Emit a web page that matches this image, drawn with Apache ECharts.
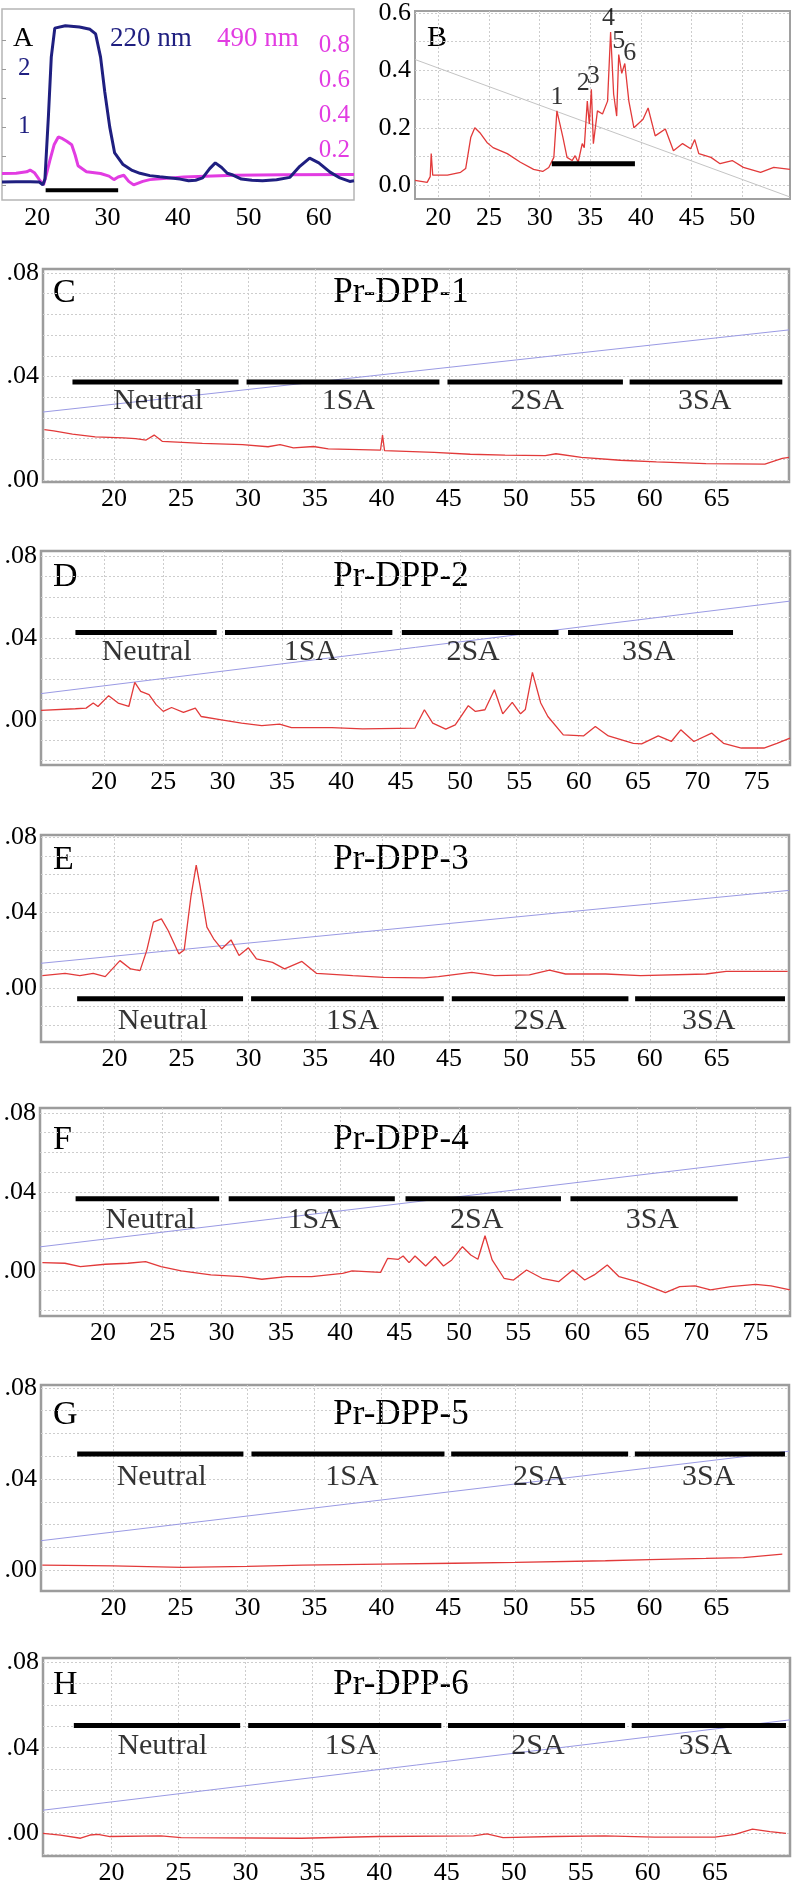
<!DOCTYPE html>
<html><head><meta charset="utf-8">
<script src="https://cdn.jsdelivr.net/npm/echarts@6/dist/echarts.min.js"></script>
<style>html,body{margin:0;padding:0;background:#fff}#c{width:792px;height:1886px}</style>
</head><body><div id="c"></div>
<script>
// ---------- DATA ----------
const segNames = ['Neutral', '1SA', '2SA', '3SA'];
const panelTitles = ['Pr-DPP-1', 'Pr-DPP-2', 'Pr-DPP-3', 'Pr-DPP-4', 'Pr-DPP-5', 'Pr-DPP-6'];
const panelLetters = ['C', 'D', 'E', 'F', 'G', 'H'];

// Panel A (220 nm on left axis, 490 nm on right axis)
const a220 = [[15,0.05],[17,0.055],[19,0.055],[20.3,0.05],[20.8,0.0],[21.1,0.1],[21.6,1.2],[22.0,2.2],[22.5,2.7],[24,2.74],[26,2.72],[27.5,2.68],[28.3,2.6],[29,2.2],[29.6,1.6],[30.3,1.0],[31,0.55],[32.2,0.35],[33.5,0.25],[34.6,0.2],[36,0.16],[37.4,0.14],[40.3,0.1],[41.5,0.07],[42.5,0.08],[43.5,0.12],[44.5,0.28],[45.3,0.38],[46.2,0.3],[47,0.2],[47.8,0.17],[49,0.1],[50.5,0.08],[52,0.07],[54,0.09],[55.9,0.13],[57.3,0.32],[58.7,0.46],[60,0.38],[61.6,0.22],[63,0.12],[64.4,0.06],[65,0.07]];
const a490 = [[15,0.065],[17,0.067],[18.5,0.075],[19,0.085],[19.6,0.07],[20.3,0.03],[20.9,0.0],[21.3,0.06],[21.8,0.14],[22.4,0.23],[23,0.275],[23.6,0.265],[24.2,0.25],[24.9,0.23],[25.4,0.17],[25.8,0.11],[27,0.075],[29,0.065],[30.2,0.05],[30.9,0.03],[31.5,0.045],[32.3,0.055],[33.0,0.02],[33.7,0.0],[35,0.02],[36,0.03],[40.8,0.045],[48,0.055],[55,0.058],[65,0.06]];
const aBar = [21.2, 31.5];
const aBarY = -0.09;

// Panel B
const bRed = [[17.7,0.017],[18.9,0.01],[19.2,0.03],[19.3,0.11],[19.45,0.035],[20.9,0.035],[22.2,0.045],[22.7,0.058],[23.2,0.166],[23.6,0.2],[24.1,0.183],[24.8,0.149],[25.4,0.131],[26.8,0.11],[28.1,0.08],[29.4,0.055],[30.3,0.048],[30.9,0.062],[31.4,0.097],[31.7,0.259],[32.0,0.213],[32.3,0.166],[32.7,0.097],[33.2,0.086],[33.5,0.103],[33.8,0.08],[34.2,0.145],[34.4,0.131],[34.7,0.293],[34.9,0.213],[35.1,0.334],[35.3,0.145],[35.7,0.259],[36.2,0.248],[36.7,0.293],[37.0,0.534],[37.3,0.317],[37.6,0.241],[37.8,0.455],[38.1,0.39],[38.4,0.424],[38.8,0.293],[39.3,0.2],[40.2,0.23],[40.7,0.269],[41.4,0.172],[42.4,0.196],[43.2,0.12],[44.1,0.145],[44.9,0.127],[45.3,0.159],[45.7,0.11],[46.9,0.097],[47.8,0.075],[49.0,0.086],[50.1,0.062],[51.8,0.045],[53.1,0.062],[54.7,0.055]];
const bGray = [[17.7,0.438],[54.7,-0.041]];
const bBar = [31.2, 39.4];
const bBarY = 0.075;
const bPeakNames = ['1','2','3','4','5','6'];
const bPeaks = [[31.7,0.259],[34.7,0.293],[35.1,0.334],[37.0,0.534],[37.8,0.455],[38.4,0.424]];

// Panels C..H
const cRed = [[14.8,0.0195],[15.5,0.019],[16.9,0.0178],[18.6,0.0167],[20.7,0.0163],[21.6,0.016],[22.4,0.0155],[23.0,0.0174],[23.6,0.015],[26.6,0.0142],[29.6,0.0137],[31.5,0.0129],[32.4,0.0137],[33.4,0.0125],[34.9,0.013],[36.0,0.0121],[39.9,0.0116],[40.05,0.0174],[40.2,0.0114],[43.9,0.0107],[46.6,0.0100],[49.2,0.0097],[52.2,0.0095],[53.0,0.0102],[54.9,0.0088],[57.8,0.0077],[60.5,0.0071],[64.2,0.0064],[68.6,0.0062],[69.9,0.0084],[70.4,0.0088]];
const dRed = [[14.7,0.0046],[17.6,0.0054],[18.5,0.0057],[19.1,0.0082],[19.5,0.0065],[20.4,0.0118],[21.2,0.0082],[22.1,0.0065],[22.6,0.0183],[23.1,0.0139],[23.8,0.0123],[24.4,0.0074],[25.0,0.0041],[25.7,0.006],[26.7,0.0036],[27.7,0.0057],[28.2,0.0016],[29.9,0.0],[31.6,-0.0016],[33.3,-0.0029],[34.8,-0.0021],[35.8,-0.0038],[39.2,-0.0038],[41.8,-0.0044],[46.2,-0.0041],[47.0,0.0049],[47.7,-0.0016],[48.8,-0.0046],[49.6,-0.0025],[50.7,0.0069],[51.3,0.0041],[52.1,0.0049],[52.9,0.0147],[53.6,0.0029],[54.4,0.0085],[55.1,0.0029],[55.5,0.005],[56.1,0.0232],[56.8,0.0082],[57.4,0.0016],[58.7,-0.0074],[60.4,-0.0079],[61.4,-0.0033],[62.5,-0.0079],[64.6,-0.0115],[65.3,-0.0118],[66.7,-0.0079],[67.8,-0.0106],[68.6,-0.0049],[69.7,-0.0106],[71.2,-0.0065],[72.2,-0.0115],[73.7,-0.0138],[75.6,-0.0138],[76.7,-0.0115],[77.8,-0.009]];
const eRed = [[14.6,0.0064],[16.3,0.0076],[17.4,0.0064],[18.4,0.0076],[19.3,0.0059],[20.4,0.0144],[21.2,0.01],[21.9,0.0091],[22.4,0.0197],[22.9,0.0348],[23.5,0.0366],[24.0,0.0304],[24.8,0.018],[25.2,0.02],[25.7,0.0482],[26.1,0.0651],[26.4,0.0535],[26.9,0.0322],[27.4,0.026],[28.0,0.0206],[28.7,0.0254],[29.3,0.0171],[30.0,0.0212],[30.6,0.0153],[31.8,0.0135],[32.7,0.01],[34.0,0.014],[35.1,0.0076],[37.8,0.0064],[40.1,0.0055],[43.1,0.0052],[44.2,0.0059],[46.7,0.0082],[48.4,0.0064],[51.0,0.0068],[52.5,0.0094],[53.7,0.0073],[56.7,0.0073],[59.3,0.0064],[64.2,0.0073],[65.7,0.0087],[70.3,0.0087]];
const fRed = [[14.9,0.0042],[16.8,0.0039],[18.1,0.0022],[20.2,0.0034],[22.1,0.0039],[23.6,0.0047],[24.9,0.0022],[26.6,0.0],[29.1,-0.002],[31.7,-0.0029],[33.4,-0.0042],[35.5,-0.0029],[37.6,-0.0029],[40.2,-0.0012],[41.0,0.0],[43.4,-0.0007],[44.0,0.0064],[44.9,0.0059],[45.3,0.0076],[45.8,0.0042],[46.3,0.0076],[47.2,0.0025],[48.0,0.0073],[48.7,0.0025],[49.4,0.0056],[50.3,0.0123],[51.0,0.0081],[51.6,0.0059],[52.2,0.0178],[52.8,0.0056],[53.8,-0.0037],[54.6,-0.0046],[55.7,0.0005],[57.0,-0.0037],[58.4,-0.0054],[59.6,0.0005],[60.6,-0.0046],[61.4,-0.002],[62.5,0.003],[63.5,-0.0029],[65.0,-0.0054],[66.1,-0.0079],[67.4,-0.011],[68.6,-0.0079],[69.9,-0.0076],[71.2,-0.0096],[72.9,-0.0079],[75.0,-0.0068],[76.3,-0.0076],[77.9,-0.0096]];
const gRed = [[14.7,0.0022],[20,0.0018],[25.1,0.0012],[30,0.0016],[34.1,0.0022],[40,0.0026],[45.4,0.003],[50,0.0034],[56.7,0.0041],[60,0.0046],[64.2,0.0051],[67,0.0055],[69.9,0.007]];
const hRed = [[14.9,0.0],[16.2,-0.0008],[17.7,-0.0023],[18.4,-0.0008],[19.0,-0.0005],[19.9,-0.0015],[23.7,-0.0012],[25.2,-0.002],[34.2,-0.0023],[39.9,-0.0015],[47.0,-0.0012],[48.0,-0.0003],[49.2,-0.002],[53.0,-0.0015],[56.8,-0.0012],[60.5,-0.0018],[65.0,-0.0018],[66.5,-0.0005],[67.8,0.002],[69.1,0.0008],[70.3,0.0]];

const cBlue = [[14.7,0.0263],[70.4,0.058]];
const dBlue = [[14.7,0.0128],[77.8,0.058]];
const eBlue = [[14.5,0.013],[70.4,0.0517]];
const fBlue = [[14.7,0.0122],[77.9,0.0577]];
const gBlue = [[14.6,0.0129],[70.4,0.0522]];
const hBlue = [[14.9,0.0108],[70.6,0.053]];

const cBars = [[16.9,29.3],[29.9,44.3],[44.9,58.0],[58.5,69.9]];
const dBars = [[17.6,29.5],[30.2,44.3],[45.1,58.3],[59.1,73.0]];
const eBars = [[17.2,29.6],[30.2,44.6],[45.2,58.4],[58.9,70.1]];
const fBars = [[17.7,29.8],[30.6,44.6],[45.5,58.6],[59.4,73.5]];
const gBars = [[17.3,29.7],[30.3,44.7],[45.2,58.4],[58.9,70.1]];
const hBars = [[17.2,29.6],[30.2,44.6],[45.1,58.3],[58.8,70.3]];
const barYs = [0.0379, 0.0427, -0.0059, 0.0365, 0.051, 0.0504];
const segLabelXs = [[23.3,37.5,51.6,64.1],[23.6,37.4,51.1,65.9],[23.6,37.8,51.8,64.4],[24.0,37.8,51.5,66.3],[23.6,37.8,51.8,64.4],[23.8,37.9,51.8,64.3]];
const segLabelYs = [0.0305, 0.033, -0.0176, 0.0258, 0.041, 0.0407];

// Axis tick labels
const aXTicks = [20, 30, 40, 50, 60];
const aLeftTicks = [1, 2];
const aRightTicks = [0.2, 0.4, 0.6, 0.8];
const bXTicks = [20, 25, 30, 35, 40, 45, 50];
const bYTicks = [0.0, 0.2, 0.4, 0.6];
const xTicks65 = [20, 25, 30, 35, 40, 45, 50, 55, 60, 65];
const xTicks75 = [20, 25, 30, 35, 40, 45, 50, 55, 60, 65, 70, 75];
const yTicksLow = [0, 0.04, 0.08];

// ---------- LAYOUT / STYLE ----------
const FONT = '"Liberation Serif","DejaVu Serif",serif';
const INK = '#000';
const RED = '#e23a3a', BLUE = '#9a9ae4', NAVY = '#1f1f80', MAG = '#e23ce2';
const GRIDLINE = {show: true, lineStyle: {color: '#cdcdcd', width: 1, type: [2, 2]}};

const panels = [
  {grid: {left: 43, top: 269, width: 746, height: 213}, x: [14.7, 70.4], y: [-0.0007, 0.0815], xt: xTicks65, step: 0.008, red: cRed, blue: cBlue, bars: cBars, titleY: 293},
  {grid: {left: 41, top: 551, width: 749, height: 214}, x: [14.7, 77.8], y: [-0.0221, 0.0825], xt: xTicks75, step: 0.01, red: dRed, blue: dBlue, bars: dBars, titleY: 577},
  {grid: {left: 41, top: 835, width: 748, height: 207}, x: [14.5, 70.4], y: [-0.0288, 0.0811], xt: xTicks65, step: 0.01, red: eRed, blue: eBlue, bars: eBars, titleY: 860},
  {grid: {left: 40, top: 1108, width: 750, height: 208}, x: [14.7, 77.9], y: [-0.0228, 0.0825], xt: xTicks75, step: 0.01, red: fRed, blue: fBlue, bars: fBars, titleY: 1140},
  {grid: {left: 41, top: 1385, width: 748, height: 206}, x: [14.6, 70.4], y: [-0.0092, 0.0813], xt: xTicks65, step: 0.01, red: gRed, blue: gBlue, bars: gBars, titleY: 1415},
  {grid: {left: 43, top: 1658, width: 747, height: 200}, x: [14.9, 70.6], y: [-0.0106, 0.0819], xt: xTicks65, step: 0.01, red: hRed, blue: hBlue, bars: hBars, titleY: 1685}
];

function gridVals(min, max, step) {
  const out = [];
  for (let k = Math.ceil(min / step - 1e-9); k * step <= max + 1e-9; k++) out.push(+(k * step).toFixed(4));
  return out;
}

const grids = [], xAxes = [], yAxes = [], series = [], graphics = [];
const lbl = (size, color, extra) => Object.assign({fontFamily: FONT, fontSize: size, color: color || INK}, extra || {});

function lineSeries(xi, yi, data, color, width, z) {
  return {type: 'line', xAxisIndex: xi, yAxisIndex: yi, data: data, symbol: 'none', showSymbol: false,
    lineStyle: {color: color, width: width}, silent: true, animation: false, z: z || 2};
}
function textSeries(xi, yi, items, size, pos) {
  return {type: 'scatter', xAxisIndex: xi, yAxisIndex: yi, symbolSize: 1, itemStyle: {color: 'transparent'},
    silent: true, animation: false, z: 5, data: items,
    label: {show: true, position: pos || 'inside', formatter: p => p.name, fontFamily: FONT, fontSize: size, color: INK, distance: 0}};
}

// Panel A
grids.push({left: 2, top: 9, width: 352, height: 191, show: true, borderColor: '#b5b5b5', borderWidth: 1.5, backgroundColor: '#fff'});
xAxes.push({type: 'value', gridIndex: 0, min: 15, max: 65, axisLine: {show: false},
  axisTick: {show: false, customValues: aXTicks}, splitLine: {show: false},
  axisLabel: Object.assign(lbl(26), {customValues: aXTicks, margin: 5})});
yAxes.push({type: 'value', gridIndex: 0, min: -0.26, max: 3.03, axisLine: {show: false},
  axisTick: {show: true, inside: true, length: 4, customValues: [0, 0.5, 1, 1.5, 2, 2.5], lineStyle: {color: '#999'}},
  splitLine: {show: false},
  axisLabel: Object.assign(lbl(25, NAVY), {customValues: aLeftTicks, inside: true, margin: 16})});
yAxes.push({type: 'value', gridIndex: 0, position: 'right', min: -0.087, max: 1.01, axisLine: {show: false},
  axisTick: {show: false, customValues: aRightTicks}, splitLine: {show: false},
  axisLabel: Object.assign(lbl(25, MAG), {customValues: aRightTicks, inside: true, margin: 4, formatter: v => v.toFixed(1)})});
series.push(lineSeries(0, 1, a490, MAG, 3, 2));
series.push(lineSeries(0, 0, a220, NAVY, 3, 3));
series.push(lineSeries(0, 0, [[aBar[0], aBarY], [aBar[1], aBarY]], '#000', 4, 4));
graphics.push({type: 'text', x: 13, y: 39, style: {text: 'A', font: '28px ' + FONT, fill: INK, verticalAlign: 'middle', textVerticalAlign: 'middle'}});
graphics.push({type: 'text', x: 110, y: 39, style: {text: '220 nm', font: '27px ' + FONT, fill: NAVY, verticalAlign: 'middle', textVerticalAlign: 'middle'}});
graphics.push({type: 'text', x: 217, y: 39, style: {text: '490 nm', font: '27px ' + FONT, fill: MAG, verticalAlign: 'middle', textVerticalAlign: 'middle'}});

// Panel B
grids.push({left: 415, top: 9, width: 375, height: 190, show: true, borderColor: '#a0a0a0', borderWidth: 2, backgroundColor: '#fff'});
xAxes.push({type: 'value', gridIndex: 1, min: 17.7, max: 54.7, axisLine: {show: false},
  axisTick: {show: false, customValues: bXTicks}, splitLine: GRIDLINE,
  axisLabel: Object.assign(lbl(26), {customValues: bXTicks, margin: 6})});
yAxes.push({type: 'value', gridIndex: 1, min: -0.048, max: 0.607, axisLine: {show: false},
  axisTick: {show: false, customValues: [0, 0.1, 0.2, 0.3, 0.4, 0.5, 0.6]}, splitLine: GRIDLINE,
  axisLabel: Object.assign(lbl(26), {customValues: bYTicks, margin: 4, formatter: v => v.toFixed(1)})});
series.push(lineSeries(1, 2, bGray, '#c4c4c4', 1, 2));
series.push(lineSeries(1, 2, bRed, RED, 1.3, 3));
series.push(lineSeries(1, 2, [[bBar[0], bBarY], [bBar[1], bBarY]], '#000', 5, 4));
const peakOffsets = [[0, 0], [-4, -4], [2, 0], [-2, 0], [0, 0], [5, 3]];
series.push(textSeries(1, 2, bPeaks.map((p, i) => ({value: p, name: bPeakNames[i], label: {offset: peakOffsets[i]}})), 26, 'top'));
graphics.push({type: 'text', x: 427, y: 38, style: {text: 'B', font: '30px ' + FONT, fill: INK, verticalAlign: 'middle', textVerticalAlign: 'middle'}});

// Panels C..H
panels.forEach((p, i) => {
  const gi = i + 2, xi = i + 2, yi = i + 3;
  grids.push(Object.assign({show: true, borderColor: '#9c9c9c', borderWidth: 2.5, backgroundColor: '#fff'}, p.grid));
  xAxes.push({type: 'value', gridIndex: gi, min: p.x[0], max: p.x[1], axisLine: {show: false},
    axisTick: {show: false, customValues: p.xt}, splitLine: GRIDLINE,
    axisLabel: Object.assign(lbl(26), {customValues: p.xt, margin: 4})});
  yAxes.push({type: 'value', gridIndex: gi, min: p.y[0], max: p.y[1], axisLine: {show: false},
    axisTick: {show: false, customValues: gridVals(p.y[0], p.y[1], p.step)}, splitLine: GRIDLINE,
    axisLabel: Object.assign(lbl(26), {customValues: yTicksLow, margin: 4, formatter: v => v.toFixed(2).replace(/^0/, '')})});
  series.push(lineSeries(xi, yi, p.blue, BLUE, 1, 2));
  series.push(lineSeries(xi, yi, p.red, RED, 1.3, 3));
  p.bars.forEach(s => series.push(lineSeries(xi, yi, [[s[0], barYs[i]], [s[1], barYs[i]]], '#000', 5, 4)));
  series.push(textSeries(xi, yi, segNames.map((n, k) => ({value: [segLabelXs[i][k], segLabelYs[i]], name: n})), 30));
  graphics.push({type: 'text', x: 401, y: p.titleY, style: {text: panelTitles[i], font: '35px ' + FONT, fill: INK, align: 'center', textAlign: 'center', verticalAlign: 'middle', textVerticalAlign: 'middle'}});
  graphics.push({type: 'text', x: 53, y: p.titleY, style: {text: panelLetters[i], font: '34px ' + FONT, fill: INK, verticalAlign: 'middle', textVerticalAlign: 'middle'}});
});

const chart = echarts.init(document.getElementById('c'), null, {renderer: 'canvas'});
chart.setOption({
  backgroundColor: '#fff',
  animation: false,
  grid: grids,
  xAxis: xAxes,
  yAxis: yAxes,
  series: series,
  graphic: graphics
});
</script></body></html>
